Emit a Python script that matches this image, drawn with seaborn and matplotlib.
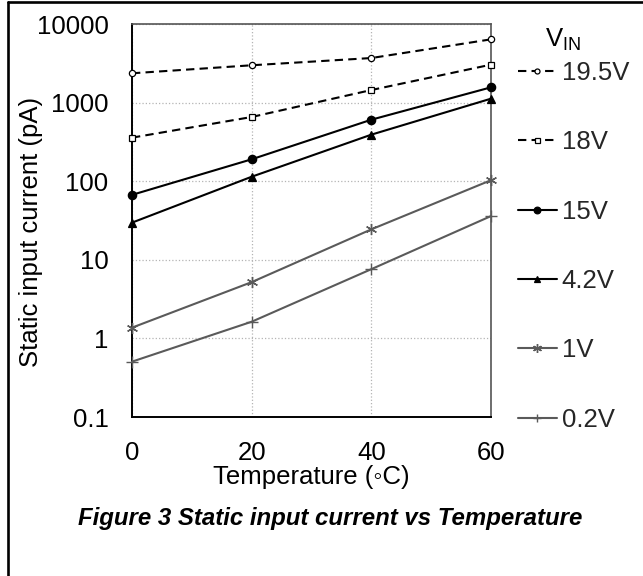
import numpy as np
import pandas as pd
import seaborn as sns
import matplotlib
matplotlib.use("Agg")
import matplotlib.pyplot as plt
from matplotlib.lines import Line2D

# Measured static input current (pA) versus temperature for each input voltage
temperature = [0, 20, 40, 60]
vin_labels = ["19.5V", "18V", "15V", "4.2V", "1V", "0.2V"]
i_19v5 = [2360, 2985, 3690, 6380]
i_18v = [358, 656, 1445, 3040]
i_15v = [67, 190, 606, 1564]
i_4v2 = [29.7, 114, 391, 1122]
i_1v = [1.37, 5.2, 24.4, 103]
i_0v2 = [0.506, 1.63, 7.6, 36]
y_ticks = [0.1, 1, 10, 100, 1000, 10000]
y_tick_labels = ["0.1", "1", "10", "100", "1000", "10000"]
x_ticks = [0, 20, 40, 60]

series = [i_19v5, i_18v, i_15v, i_4v2, i_1v, i_0v2]
df = pd.DataFrame({
    "temp": np.tile(temperature, len(series)),
    "current": np.concatenate(series),
    "vin": np.repeat(vin_labels, len(temperature)),
})

sns.set_theme(style="white")
plt.rcParams["font.family"] = ["Liberation Sans", "DejaVu Sans"]
plt.rcParams["mathtext.fontset"] = "custom"
plt.rcParams["mathtext.rm"] = "Liberation Sans"
plt.rcParams["mathtext.it"] = "Liberation Sans"

FS = 18.5
BLACK = "#000000"
GREY = "#5a5a5a"
STAR = (6, 2, 0)
styles = {
    "19.5V": dict(color=BLACK, ls=(0, (4, 2.5)), marker="o", ms=4.5, mfc="white", mew=0.9),
    "18V": dict(color=BLACK, ls=(0, (4, 2.5)), marker="s", ms=4.5, mfc="white", mew=0.9),
    "15V": dict(color=BLACK, ls="-", marker="o", ms=6, mfc=BLACK, mew=0.9),
    "4.2V": dict(color=BLACK, ls="-", marker="^", ms=5.5, mfc=BLACK, mew=0.9),
    "1V": dict(color=GREY, ls="-", marker=STAR, ms=8, mfc=GREY, mew=1.0),
    "0.2V": dict(color=GREY, ls="-", marker="+", ms=8, mfc=GREY, mew=1.0),
}

fig = plt.figure(figsize=(6.43, 5.76), dpi=100)
ax = fig.add_axes([132 / 643, 1 - 417 / 576, 359 / 643, 393 / 576])

handles = []
for label in vin_labels:
    st = styles[label]
    sub = df[df["vin"] == label]
    sns.lineplot(data=sub, x="temp", y="current", ax=ax, color=st["color"],
                 linestyle=st["ls"], linewidth=1.5, marker=st["marker"],
                 markersize=st["ms"], markerfacecolor=st["mfc"],
                 markeredgecolor=st["color"], markeredgewidth=st["mew"],
                 legend=False, zorder=3, clip_on=False)
    handles.append(Line2D([], [], color=st["color"], linestyle=st["ls"], linewidth=1.5,
                          marker=st["marker"], markersize=st["ms"] * 0.8,
                          markerfacecolor=st["mfc"], markeredgecolor=st["color"],
                          markeredgewidth=st["mew"], label=label))

ax.set_yscale("log")
ax.set_ylim(0.1, 10000)
ax.set_xlim(0, 60)
ax.set_yticks(y_ticks)
ax.set_yticklabels(y_tick_labels)
ax.minorticks_off()
ax.set_xticks(x_ticks)
ax.set_xticklabels([str(t) for t in x_ticks])
ax.tick_params(axis="y", length=0, pad=17, labelsize=FS, colors=BLACK)
ax.tick_params(axis="x", direction="in", length=7, width=1, pad=17, labelsize=FS,
               colors=BLACK)

ax.grid(True, which="major", color="#b4b4b4", linestyle=":", linewidth=0.9)
ax.set_axisbelow(True)

for side in ["left", "bottom"]:
    ax.spines[side].set_color(BLACK)
    ax.spines[side].set_linewidth(1.4)
for side in ["top", "right"]:
    ax.spines[side].set_color("#555555")
    ax.spines[side].set_linewidth(1.2)

ax.set_xlabel("Temperature (\u25e6C)", fontsize=FS, labelpad=0, color=BLACK)
ax.set_ylabel("Static input current (pA)", fontsize=FS, color=BLACK)
ax.yaxis.set_label_coords((43 - 132) / 359, (417 - 232) / 393)

leg = ax.legend(handles=handles, loc="upper left",
                bbox_to_anchor=(518 / 643, 1 - 61 / 576),
                bbox_transform=fig.transFigure, frameon=False, fontsize=FS,
                handlelength=1.5, handletextpad=0.2, labelspacing=1.765,
                borderpad=0, borderaxespad=0)

fig.text(563 / 643, 1 - 40 / 576, r"V$_{\mathrm{IN}}$", ha="center", va="center",
         fontsize=FS, color=BLACK)

fig.text(330 / 643, 1 - 518 / 576, "Figure 3 Static input current vs Temperature",
         ha="center", va="center", fontsize=17.3, fontweight="bold", fontstyle="italic",
         color=BLACK)

# page frame on the left and top edges
fig.add_artist(Line2D([7.5 / 643, 7.5 / 643], [0, 1 - 1.5 / 576],
                      transform=fig.transFigure, color=BLACK, linewidth=1.9))
fig.add_artist(Line2D([7.5 / 643, 1], [1 - 1.5 / 576, 1 - 1.5 / 576],
                      transform=fig.transFigure, color=BLACK, linewidth=1.9))

fig.savefig("out.png", dpi=100, facecolor="white")
